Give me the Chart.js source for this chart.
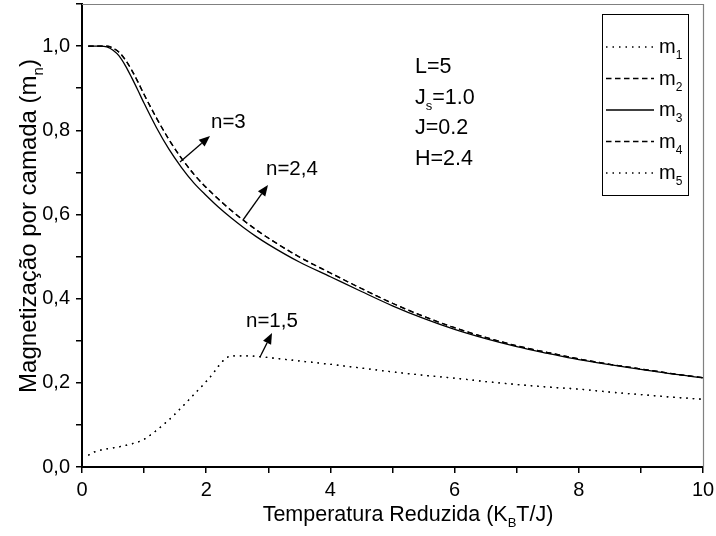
<!DOCTYPE html>
<html>
<head>
<meta charset="utf-8">
<script src="https://cdn.jsdelivr.net/npm/chart.js"></script>
<style>
  html, body { margin: 0; padding: 0; background: #fff; }
  #wrap { width: 716px; height: 536px; }
</style>
</head>
<body>
<div id="wrap"><canvas id="magChart" width="716" height="536"></canvas></div>
<script>
// temperatures (K_B T / J) and layer magnetizations
const tSolid = [0.1, 0.2, 0.3, 0.4, 0.5, 0.6, 0.7, 0.8, 0.9, 1.0, 1.2, 1.4, 1.6, 1.8, 2.0, 2.2, 2.4, 2.6, 2.8, 3.0, 3.5, 4.0, 4.5, 5.0, 5.5, 6.0, 6.5, 7.0, 7.5, 8.0, 8.5, 9.0, 9.5, 10];
const m3 = [1.0, 1.0, 1.0, 0.998, 0.99, 0.976, 0.953, 0.925, 0.895, 0.864, 0.806, 0.755, 0.712, 0.675, 0.645, 0.617, 0.592, 0.569, 0.548, 0.529, 0.487, 0.452, 0.417, 0.383, 0.353, 0.327, 0.305, 0.286, 0.27, 0.255, 0.243, 0.232, 0.221, 0.212];
const m2 = [1.0, 1.0, 1.0, 1.0, 0.995, 0.985, 0.967, 0.943, 0.915, 0.885, 0.829, 0.778, 0.734, 0.696, 0.664, 0.636, 0.61, 0.586, 0.564, 0.544, 0.499, 0.461, 0.424, 0.389, 0.358, 0.331, 0.308, 0.288, 0.272, 0.257, 0.244, 0.233, 0.222, 0.212];
const m4 = m2.slice();
const tSurf = [0.1, 0.2, 0.4, 0.6, 0.8, 1.0, 1.2, 1.4, 1.6, 1.8, 2.0, 2.1, 2.2, 2.3, 2.4, 2.6, 2.8, 3.0, 3.5, 4.0, 4.5, 5.0, 5.5, 6.0, 6.5, 7.0, 7.5, 8.0, 8.5, 9.0, 9.5, 10];
const m1 = [0.028, 0.036, 0.043, 0.048, 0.055, 0.066, 0.087, 0.112, 0.141, 0.172, 0.203, 0.22, 0.24, 0.256, 0.264, 0.264, 0.263, 0.26, 0.252, 0.244, 0.235, 0.226, 0.218, 0.211, 0.203, 0.196, 0.19, 0.185, 0.178, 0.172, 0.166, 0.161];
const m5 = m1.slice();

const seriesNames = ['1', '2', '3', '4', '5'];
const params = [['L=5'], ['J', 's', '=1.0'], ['J=0.2'], ['H=2.4']];
const notes = [
  { text: 'n=3', tx: 211, ty: 128, from: [180, 162], to: [210, 136] },
  { text: 'n=2,4', tx: 266, ty: 175, from: [243, 220], to: [268, 185] },
  { text: 'n=1,5', tx: 246, ty: 327, from: [260, 357], to: [272, 333] }
];

const FONT = '"Liberation Sans", Arial, sans-serif';
const DOT = [1.5, 5];
const DASH = [5.5, 3.5];

function pts(xs, ys) { return xs.map((x, i) => ({ x: x, y: ys[i] })); }

function line(name, xs, ys, dash) {
  return {
    label: name, data: pts(xs, ys), borderColor: '#000', borderWidth: 1.3,
    borderDash: dash, pointRadius: 0, fill: false, cubicInterpolationMode: 'monotone'
  };
}

// draws text with optional subscripts
function rich(ctx, parts, x, y, size, align) {
  const subSize = Math.round(size * 0.62);
  let w = 0;
  const items = parts.map(p => {
    ctx.font = (p.sub ? subSize : size) + 'px ' + FONT;
    const m = ctx.measureText(p.t).width;
    w += m;
    return { t: p.t, sub: p.sub, w: m };
  });
  let cx = align === 'center' ? x - w / 2 : x;
  ctx.textBaseline = 'alphabetic';
  ctx.textAlign = 'left';
  items.forEach(it => {
    ctx.font = (it.sub ? subSize : size) + 'px ' + FONT;
    ctx.fillText(it.t, cx, it.sub ? y + size * 0.3 : y);
    cx += it.w;
  });
}

function arrow(ctx, a, b) {
  const ang = Math.atan2(b[1] - a[1], b[0] - a[0]);
  const len = 11, half = 4.5;
  const bx = b[0] - len * Math.cos(ang), by = b[1] - len * Math.sin(ang);
  ctx.beginPath();
  ctx.moveTo(a[0], a[1]);
  ctx.lineTo(bx, by);
  ctx.lineWidth = 1.3;
  ctx.stroke();
  ctx.beginPath();
  ctx.moveTo(b[0], b[1]);
  ctx.lineTo(bx + half * Math.sin(ang), by - half * Math.cos(ang));
  ctx.lineTo(bx - half * Math.sin(ang), by + half * Math.cos(ang));
  ctx.closePath();
  ctx.fill();
}

const decor = {
  id: 'decor',
  afterDraw(chart) {
    const ctx = chart.ctx;
    const a = chart.chartArea;
    ctx.save();
    // top and right frame
    ctx.strokeStyle = '#808080';
    ctx.lineWidth = 1.2;
    ctx.beginPath();
    ctx.moveTo(a.left, a.top + 0.5);
    ctx.lineTo(a.right + 0.5, a.top + 0.5);
    ctx.lineTo(a.right + 0.5, a.bottom);
    ctx.stroke();

    ctx.fillStyle = '#000';
    ctx.strokeStyle = '#000';

    // legend box
    ctx.lineWidth = 1;
    ctx.strokeRect(602.5, 14.5, 86, 181);
    chart.data.datasets.forEach((ds, i) => {
      const y = 47 + i * 31.5;
      ctx.save();
      ctx.setLineDash(ds.borderDash || []);
      ctx.lineWidth = 1.3;
      ctx.beginPath();
      ctx.moveTo(606, y);
      ctx.lineTo(654, y);
      ctx.stroke();
      ctx.restore();
      rich(ctx, [{ t: 'm' }, { t: seriesNames[i], sub: true }], 659, y + 6, 20, 'left');
    });

    // parameters
    params.forEach((p, i) => {
      const parts = p.length === 1 ? [{ t: p[0] }] : [{ t: p[0] }, { t: p[1], sub: true }, { t: p[2] }];
      rich(ctx, parts, 415, 73 + i * 30.5, 21.5, 'left');
    });

    // curve labels with arrows
    notes.forEach(n => {
      rich(ctx, [{ t: n.text }], n.tx, n.ty, 20.5, 'left');
      arrow(ctx, n.from, n.to);
    });

    // axis titles
    rich(ctx, [{ t: 'Temperatura Reduzida (K' }, { t: 'B', sub: true }, { t: 'T/J)' }], 408, 521, 21.5, 'center');
    ctx.save();
    ctx.translate(36, 226);
    ctx.rotate(-Math.PI / 2);
    rich(ctx, [{ t: 'Magnetização por camada (m' }, { t: 'n', sub: true }, { t: ')' }], 0, 0, 24, 'center');
    ctx.restore();
    ctx.restore();
  }
};

const tickFont = { family: FONT, size: 20 };

new Chart(document.getElementById('magChart'), {
  type: 'line',
  data: {
    datasets: [
      line('m1', tSurf, m1, DOT),
      line('m2', tSolid, m2, DASH),
      line('m3', tSolid, m3, []),
      line('m4', tSolid, m4, DASH),
      line('m5', tSurf, m5, DOT)
    ]
  },
  options: {
    responsive: false,
    animation: false,
    layout: { autoPadding: false, padding: { top: 4, right: 13, left: 0, bottom: 0 } },
    plugins: { legend: { display: false }, tooltip: { enabled: false } },
    scales: {
      x: {
        type: 'linear', min: 0, max: 10,
        afterFit(s) { s.height = 69; s.paddingLeft = 0; s.paddingRight = 0; },
        border: { display: true, color: '#000', width: 2 },
        grid: { drawOnChartArea: false, drawTicks: true, tickLength: 6, color: '#000', lineWidth: 1.5 },
        ticks: {
          stepSize: 1, autoSkip: false, maxRotation: 0, padding: 5, color: '#000', font: tickFont,
          callback: v => (Math.round(v) % 2 === 0 ? String(Math.round(v)) : '')
        }
      },
      y: {
        type: 'linear', min: 0, max: 1.1,
        afterFit(s) { s.width = 82; s.paddingTop = 0; s.paddingBottom = 0; },
        border: { display: true, color: '#000', width: 2 },
        grid: { drawOnChartArea: false, drawTicks: true, tickLength: 6, color: '#000', lineWidth: 1.5 },
        ticks: {
          stepSize: 0.1, autoSkip: false, padding: 6, color: '#000', font: tickFont,
          callback: v => {
            const k = Math.round(v * 10);
            return k % 2 === 0 ? (k / 10).toFixed(1).replace('.', ',') : '';
          }
        }
      }
    }
  },
  plugins: [decor]
});
</script>
</body>
</html>
